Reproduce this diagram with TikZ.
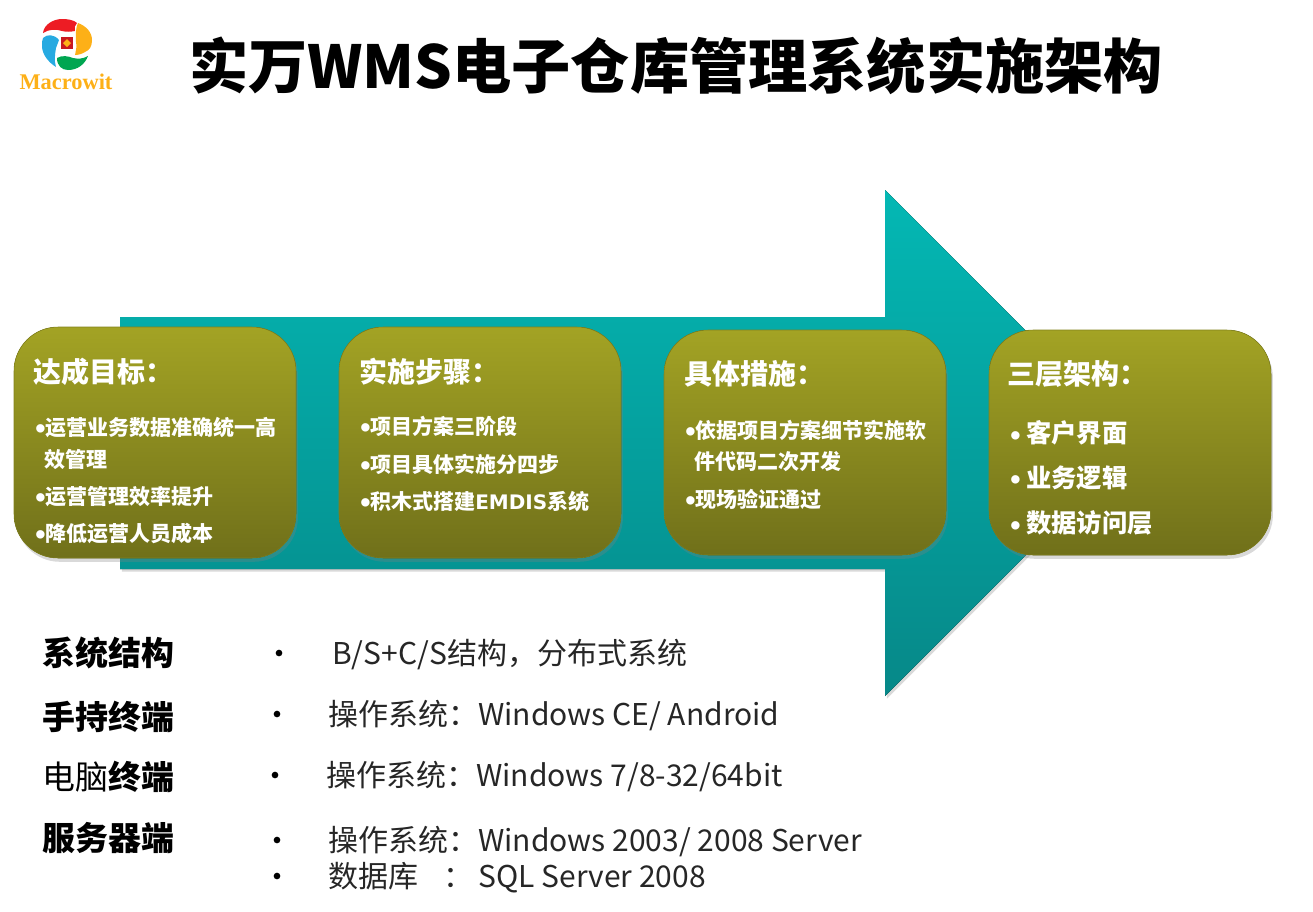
\documentclass[tikz,border=0pt]{standalone}
\usepackage{fontspec}
\setmainfont{Noto Sans CJK SC}
\newfontfamily\logofont{Liberation Serif}
\newfontfamily\bulletfont{Liberation Sans}
\newfontfamily\widefont{DejaVu Sans}
\usetikzlibrary{shadows}
\definecolor{tealtop}{RGB}{4,184,180}
\definecolor{tealbot}{RGB}{6,136,136}
\definecolor{olivetop}{RGB}{163,163,36}
\definecolor{olivebot}{RGB}{112,112,26}
\definecolor{logored}{RGB}{237,28,36}
\definecolor{logoorange}{RGB}{253,176,23}
\definecolor{logogreen}{RGB}{0,166,81}
\definecolor{logoblue}{RGB}{39,170,225}
\newcommand{\cardbul}[1]{\makebox[#1][l]{\raisebox{-1.8pt}{\bulletfont\fontsize{22}{22}\selectfont •}}}
\tikzset{
 cardbox/.style={rounded corners=33pt, draw=olivetop!80!black, line width=.4pt, top color=olivetop, bottom color=olivebot, drop shadow={opacity=.3, shadow xshift=.5mm, shadow yshift=-1mm}},
 cardhead/.style={anchor=west, inner sep=0pt, text=white, font=\fontsize{21}{24}\bfseries\selectfont},
 cardline/.style={anchor=west, inner sep=0pt, text=white, font=\fontsize{15.75}{20}\bfseries\selectfont},
 cardbig/.style={anchor=west, inner sep=0pt, text=white, font=\fontsize{19}{23}\bfseries\selectfont},
 rowhead/.style={anchor=west, inner sep=0pt, text=black, font=\fontsize{24.7}{28}\bfseries\selectfont},
 rowtext/.style={anchor=west, inner sep=0pt, text=black!85, font=\fontsize{22.5}{27}\selectfont},
}
\begin{document}
\begin{tikzpicture} [x=0.75pt,y=-0.75pt]
\useasboundingbox (0,0) rectangle (1313,911);
% arrow
\fill[top color=tealtop, bottom color=tealbot, drop shadow={opacity=.3, shadow xshift=.5mm, shadow yshift=-.7mm}]
 (120,317) -- (885,317) -- (885,190) -- (1138,443) -- (885,696) -- (885,569) -- (120,569) -- cycle;
% cards
\foreach \x/\y/\h in {14/327/231,339/327/231,664/330/225,989/330/225} {
 \filldraw[cardbox] (\x,\y) rectangle ++(282,\h);
}
% title
\node[anchor=center, font=\fontsize{44.4}{54}\bfseries\selectfont] (title) at (676,66) {实万WMS电子仓库管理系统实施架构};
% card texts
\node[cardhead] (goal) at (33,372) {达成目标：};
\node[cardline] (goalA) at (35,428) {\cardbul{7.5pt}运营业务数据准确统一高};
\node[cardline] (goalB) at (44,459) {效管理};
\node[cardline] (goalC) at (35,497) {\cardbul{7.5pt}运营管理效率提升};
\node[cardline] (goalD) at (35,534) {\cardbul{7.5pt}降低运营人员成本};
\node[cardhead] (stepT) at (359,372) {实施步骤：};
\foreach \t/\y in {项目方案三阶段/427,项目具体实施分四步/465,积木式搭建{\widefont\fontsize{15}{20}\selectfont EMDIS}系统/502} {
 \node[cardline] (stepL\y) at (360,\y) {\cardbul{7.5pt}\t};
}
\node[cardhead] (actT) at (684,374) {具体措施：};
\node[cardline] (actA) at (685,431) {\cardbul{7.5pt}依据项目方案细节实施软};
\node[cardline] (actB) at (694,462) {件代码二次开发};
\node[cardline] (actC) at (685,500) {\cardbul{7.5pt}现场验证通过};
\node[cardhead] (tierT) at (1007,374) {三层架构：};
\foreach \t/\y in {客户界面/433,业务逻辑/478,数据访问层/523} {
 \node[cardbig] (tierL\y) at (1010,\y) {\cardbul{12pt}\t};
}
% rows
\node[rowhead] (sysH) at (42,653) {系统结构};
\node[rowhead] (handH) at (42,717) {手持终端};
\node[rowhead] (pcH) at (42,777) {{\mdseries 电脑}终端};
\node[rowhead] (srvH) at (42,838) {服务器端};
\foreach \y/\x/\b/\t in {653/332/279/{B/S+C/S结构，分布式系统},714/328/277/{操作系统：Windows CE/ Android},775/326/275/{操作系统：Windows 7/8-32/64bit},840/328/277/{操作系统：Windows 2003/ 2008 Server},876/328/277/{数据库\ \ \ \,：\,SQL Server 2008}} {
 \node[rowtext] (row\y) at (\x,\y+2) {\t};
 \fill (\b,\y) circle (2.5pt);
}
% logo
\fill[logored] (43,33) .. controls (44,24) and (54,19) .. (62,19) .. controls (68,19) and (74,20) .. (77,23) .. controls (75,25) and (74,28) .. (75,31) .. controls (70,32) and (66,32) .. (62,31) .. controls (56,29) and (49,29) .. (43,33) -- cycle;
\fill[logoorange] (78,23) .. controls (86,26) and (92,32) .. (92,40) .. controls (92,46) and (90,50) .. (85,52) .. controls (82,54) and (78,55) .. (75,55) .. controls (76,50) and (77,46) .. (76,42) .. controls (76,36) and (75,30) .. (78,23) -- cycle;
\fill[logogreen] (57,58) .. controls (62,55) and (68,56) .. (73,58) .. controls (78,59) and (83,59) .. (88,56) .. controls (85,64) and (78,70) .. (68,70) .. controls (62,70) and (57,66) .. (57,58) -- cycle;
\fill[logoblue] (43,38) .. controls (47,34) and (54,34) .. (59,40) .. controls (58,43) and (57,45) .. (56,48) .. controls (55,54) and (54,61) .. (56,67) .. controls (48,62) and (42,54) .. (42,46) .. controls (42,43) and (42,40) .. (43,38) -- cycle;
\fill[logored!85!black] (61,37) -- (73,37) -- (73,49) -- (61,49) -- cycle;
\fill[logoorange] (67,39) -- (71,43) -- (67,47) -- (63,43) -- cycle;
\node[anchor=center, text=logoorange, font=\logofont\fontsize{16.8}{18}\bfseries\selectfont] (logotext) at (66,82) {Macrowit};
\end{tikzpicture}
\end{document}
